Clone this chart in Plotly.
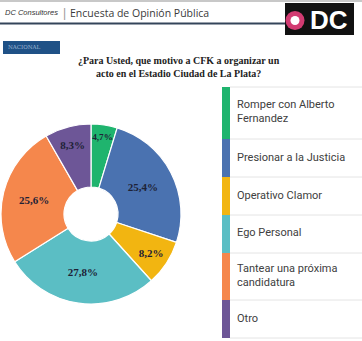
import plotly.graph_objects as go

categories = ["Romper con Alberto<br>Fernandez", "Presionar a la Justicia", "Operativo Clamor",
              "Ego Personal", "Tantear una próxima<br>candidatura", "Otro"]
values = [4.7, 25.4, 8.2, 27.8, 25.6, 8.3]
value_labels = ["4,7%", "25,4%", "8,2%", "27,8%", "25,6%", "8,3%"]
colors = ["#1fb46e", "#4a72b0", "#f2b511", "#5bbec4", "#f5874c", "#6d5697"]

W, H = 362, 341
# legend row boundaries in pixels (top -> bottom)
row_edges = [87, 139, 177, 215, 253, 300, 338]

fig = go.Figure()
fig.add_trace(go.Pie(
    values=values, text=value_labels, textinfo="text", sort=False,
    direction="clockwise", rotation=0, hole=0.3,
    marker=dict(colors=colors, line=dict(color="white", width=1.2)),
    textfont=dict(family="Liberation Serif", size=11, color="#1e2236", weight="bold"),
    textposition="inside", insidetextorientation="horizontal",
    domain=dict(x=[1/W, 181/W], y=[(H-304)/H, (H-124)/H]),
    showlegend=False, hoverinfo="skip",
))

shapes = []
annotations = []

def px(x):
    return x / W

def py(y):
    return 1 - y / H

# top light border
shapes.append(dict(type="rect", xref="paper", yref="paper", x0=0, x1=1, y0=py(2), y1=1,
                   fillcolor="#c8c8c8", line=dict(width=0)))
# header line
shapes.append(dict(type="line", xref="paper", yref="paper", x0=0, x1=px(286), y0=py(23.5), y1=py(23.5),
                   line=dict(color="#34455a", width=2)))
annotations.append(dict(text="<i>DC Consultores</i>", x=px(3), y=py(13), xref="paper", yref="paper",
                        xanchor="left", yanchor="middle", showarrow=False,
                        font=dict(family="Liberation Sans Narrow, Liberation Sans", size=7.5, color="#333")))
annotations.append(dict(text="|", x=px(61), y=py(13), xref="paper", yref="paper",
                        xanchor="left", yanchor="middle", showarrow=False,
                        font=dict(family="Liberation Sans", size=12, color="#999")))
annotations.append(dict(text="Encuesta de Opinión Pública", x=px(68), y=py(13), xref="paper", yref="paper",
                        xanchor="left", yanchor="middle", showarrow=False,
                        font=dict(family="Open Sans", size=10.5, color="#3a3a3a")))
# logo
shapes.append(dict(type="rect", xref="paper", yref="paper", x0=px(285), x1=px(354), y0=py(35), y1=py(3),
                   fillcolor="#111111", line=dict(width=0)))
shapes.append(dict(type="circle", xref="paper", yref="paper", x0=px(285.5), x1=px(304.5), y0=py(30), y1=py(11),
                   fillcolor="#d23b72", line=dict(width=0)))
shapes.append(dict(type="circle", xref="paper", yref="paper", x0=px(290.5), x1=px(299.5), y0=py(25), y1=py(16),
                   fillcolor="white", line=dict(width=0)))
annotations.append(dict(text="<b>DC</b>", x=px(329), y=py(20), xref="paper", yref="paper",
                        xanchor="center", yanchor="middle", showarrow=False,
                        font=dict(family="Liberation Sans", size=26, color="white")))
# NACIONAL box
shapes.append(dict(type="rect", xref="paper", yref="paper", x0=px(3), x1=px(60), y0=py(54), y1=py(41),
                   fillcolor="#1f5186", line=dict(width=0)))
annotations.append(dict(text="NACIONAL", x=px(24), y=py(47.5), xref="paper", yref="paper",
                        xanchor="center", yanchor="middle", showarrow=False,
                        font=dict(family="DejaVu Serif", size=5.5, color="#9fb8d4")))
# title
annotations.append(dict(text="<b>¿Para Usted, que motivo a CFK a organizar un<br>acto en el Estadio Ciudad de La Plata?</b>",
                        x=px(179), y=py(67), xref="paper", yref="paper",
                        xanchor="center", yanchor="middle", showarrow=False,
                        font=dict(family="Liberation Serif", size=10, color="#222"),
                        ))

# legend
for i, (cat, col) in enumerate(zip(categories, colors)):
    top, bot = row_edges[i], row_edges[i + 1]
    shapes.append(dict(type="rect", xref="paper", yref="paper", x0=px(222), x1=px(230), y0=py(bot), y1=py(top),
                       fillcolor=col, line=dict(width=0)))
    shapes.append(dict(type="line", xref="paper", yref="paper", x0=px(230), x1=1, y0=py(top), y1=py(top),
                       line=dict(color="#e4e4e4", width=1)))
    annotations.append(dict(text=cat, x=px(235), y=py((top + bot) / 2 - 1), xref="paper", yref="paper",
                            xanchor="left", yanchor="middle", align="left", showarrow=False,
                            font=dict(family="Roboto", size=11, color="#404040")))
shapes.append(dict(type="line", xref="paper", yref="paper", x0=px(230), x1=1, y0=py(row_edges[-1]), y1=py(row_edges[-1]),
                   line=dict(color="#e4e4e4", width=1)))

fig.update_layout(width=W, height=H, margin=dict(l=0, r=0, t=0, b=0),
                  paper_bgcolor="white", plot_bgcolor="white",
                  shapes=shapes, annotations=annotations)
fig.write_html("out.html")
